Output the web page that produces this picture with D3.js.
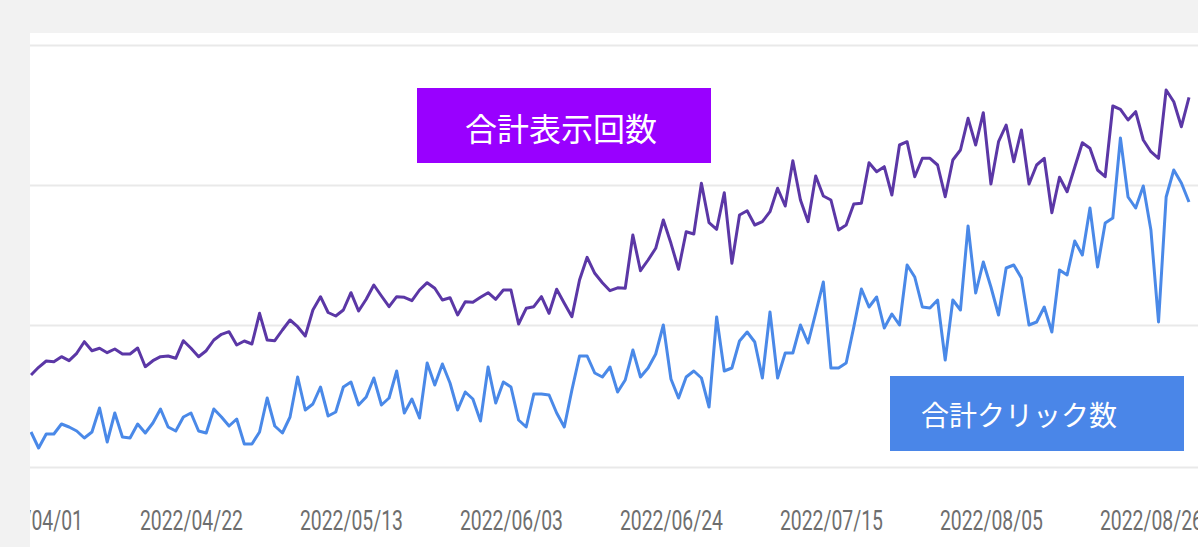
<!DOCTYPE html>
<html>
<head>
<meta charset="utf-8">
<script src="https://cdn.jsdelivr.net/npm/d3@7"></script>
<style>
  html, body { margin: 0; padding: 0; background: #f2f2f2; }
  svg { display: block; }
</style>
</head>
<body>
<svg id="chart" width="1198" height="547"></svg>
<script>
// daily values, 2022/04/01 .. 2022/08/31
const impressions = [
  920, 997, 1060, 1053, 1103, 1063, 1137, 1253, 1163, 1187, 1143, 1180, 1130, 1130, 1190, 1003,
  1063, 1103, 1110, 1087, 1263, 1187, 1103, 1163, 1270, 1327, 1353, 1220, 1260, 1230, 1537, 1270,
  1263, 1370, 1470, 1403, 1310, 1570, 1703, 1545, 1510, 1570, 1743, 1560, 1677, 1820, 1710, 1603,
  1703, 1697, 1663, 1770, 1843, 1787, 1670, 1693, 1520, 1653, 1647, 1697, 1743, 1677, 1770, 1770,
  1430, 1587, 1603, 1703, 1537, 1777, 1637, 1503, 1870, 2097, 1937, 1843, 1763, 1792, 1787, 2320,
  1963, 2070, 2187, 2470, 2237, 1977, 2353, 2330, 2837, 2443, 2377, 2743, 2037, 2520, 2563, 2420,
  2453, 2553, 2787, 2610, 3063, 2670, 2453, 2910, 2710, 2670, 2370, 2420, 2630, 2637, 3043, 2953,
  3003, 2720, 3220, 3253, 2903, 3087, 3087, 3020, 2703, 3070, 3170, 3487, 3220, 3543, 2830, 3253,
  3420, 3053, 3370, 2830, 3020, 3087, 2543, 2897, 2753, 2997, 3243, 3187, 2970, 2903, 3610, 3577,
  3470, 3553, 3270, 3153, 3087, 3770, 3653, 3403, 3697
];

const clicks = [
  35, 19, 33, 33, 43, 40, 36, 29, 35, 59, 25, 54, 30, 29, 43, 34,
  44, 58, 40, 36, 50, 54, 36, 34, 58, 50, 41, 48, 23, 23, 35, 69,
  41, 34, 50, 90, 57, 63, 80, 51, 55, 80, 85, 62, 70, 89, 62, 69,
  96, 54, 68, 49, 104, 82, 103, 84, 57, 75, 68, 46, 100, 64, 85, 80,
  47, 40, 73, 73, 72, 54, 40, 77, 111, 111, 94, 90, 100, 75, 87, 117,
  90, 99, 113, 142, 88, 69, 90, 96, 89, 60, 150, 96, 99, 126, 135, 125,
  89, 155, 89, 114, 114, 142, 124, 154, 185, 99, 99, 104, 140, 178, 160, 170,
  139, 153, 142, 202, 190, 160, 159, 167, 107, 167, 157, 241, 174, 205, 180, 152,
  199, 202, 189, 142, 145, 160, 135, 197, 192, 226, 212, 259, 200, 244, 249, 329,
  270, 259, 281, 237, 145, 270, 297, 284, 265
];

const tickLabels = ["2022/04/01", "2022/04/22", "2022/05/13", "2022/06/03",
                    "2022/06/24", "2022/07/15", "2022/08/05", "2022/08/26"];
const gridValues = [0, 1420, 2820, 4220];

const seriesNames = ["合計表示回数", "合計クリック数"];
const seriesColors = ["#5b37a6", "#4a89e8"];
const boxColors = ["#9900ff", "#4a86e8"];

const parse = d3.timeParse("%Y/%m/%d");
const days = d3.timeDay.range(parse("2022/04/01"), parse("2022/09/01"));

const svg = d3.select("#chart");

// white panel, everything inside is clipped to it
svg.append("rect")
  .attr("x", 30).attr("y", 33)
  .attr("width", 1168).attr("height", 514)
  .attr("fill", "#ffffff");

svg.append("defs").append("clipPath").attr("id", "clip")
  .append("rect").attr("x", 30).attr("y", 33).attr("width", 1168).attr("height", 514);

const panel = svg.append("g").attr("clip-path", "url(#clip)");

const x = d3.scaleTime()
  .domain([days[0], days[days.length - 1]])
  .range([31, 1189]);

const yImp = d3.scaleLinear().domain([0, 4220]).range([467, 45]);
const yClk = d3.scaleLinear().domain([0, 422]).range([467, 45]);

// gridlines
panel.append("g")
  .attr("transform", "translate(30,0)")
  .call(d3.axisLeft(yImp).tickValues(gridValues).tickSize(-1168).tickFormat(""))
  .call(g => g.select(".domain").remove())
  .call(g => g.selectAll(".tick line").attr("stroke", "#e9e9e9").attr("stroke-width", 2));

// x axis labels
panel.append("g")
  .attr("transform", "translate(0,500)")
  .call(d3.axisBottom(x).tickValues(tickLabels.map(parse)).tickSize(0).tickFormat(d3.timeFormat("%Y/%m/%d")))
  .call(g => g.select(".domain").remove())
  .call(g => g.selectAll(".tick text")
    .attr("dy", 0).attr("y", 30)
    .attr("fill", "#6e6e6e")
    .attr("font-family", "Roboto, sans-serif")
    .attr("font-size", 27)
    .attr("textLength", 103)
    .attr("lengthAdjust", "spacingAndGlyphs"));

const lineImp = d3.line().x((d, i) => x(days[i])).y(d => yImp(d));
const lineClk = d3.line().x((d, i) => x(days[i])).y(d => yClk(d));

panel.append("path")
  .datum(clicks)
  .attr("d", lineClk)
  .attr("fill", "none")
  .attr("stroke", seriesColors[1])
  .attr("stroke-width", 3)
  .attr("stroke-linejoin", "round");
panel.append("path")
  .datum(impressions)
  .attr("d", lineImp)
  .attr("fill", "none")
  .attr("stroke", seriesColors[0])
  .attr("stroke-width", 3)
  .attr("stroke-linejoin", "round");

// label boxes
const boxes = [
  {x: 417, y: 88, tx: 465, ty: 141, fs: 32},
  {x: 890, y: 376, tx: 921, ty: 426, fs: 28}
];
boxes.forEach((b, i) => {
  svg.append("rect")
    .attr("x", b.x).attr("y", b.y)
    .attr("width", 294).attr("height", 75)
    .attr("fill", boxColors[i]);
  svg.append("text")
    .attr("x", b.tx).attr("y", b.ty)
    .attr("fill", "#ffffff")
    .attr("font-family", "'Noto Sans CJK JP', sans-serif")
    .attr("font-size", b.fs)
    .text(seriesNames[i]);
});
</script>
</body>
</html>
